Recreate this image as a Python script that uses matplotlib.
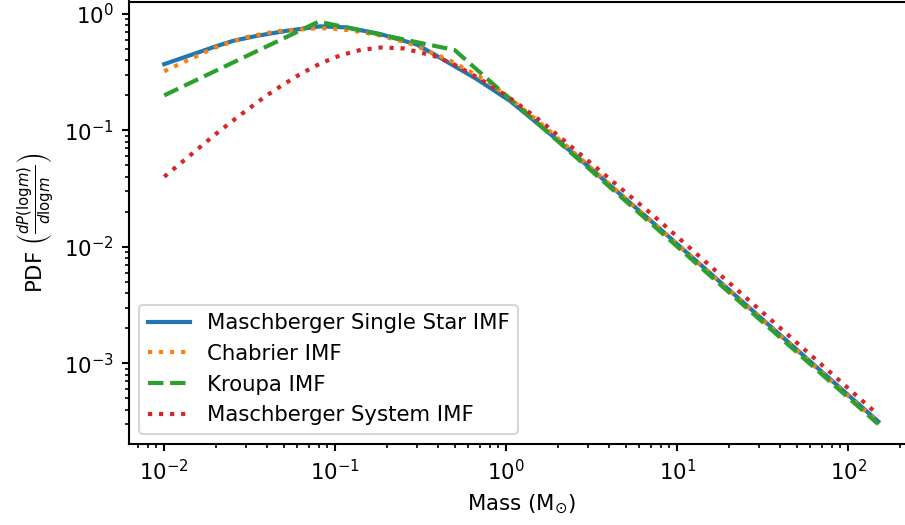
from matplotlib import pyplot as plt

# Maschberger single star IMF
mass_single = [0.01, 0.0148, 0.02, 0.0254, 0.035, 0.0522, 0.0817, 0.117, 0.183, 0.301, 0.43, 0.675, 1.054, 1.73, 3.0, 7.26, 150]
pdf_single = [0.371, 0.452, 0.527, 0.589, 0.650, 0.718, 0.783, 0.767, 0.673, 0.546, 0.405, 0.275, 0.179, 0.0986, 0.0495, 0.0160, 3.16e-4]

# Chabrier IMF
mass_chab = [0.01, 0.0135, 0.0199, 0.0298, 0.0452, 0.0798, 0.106, 0.141, 0.187, 0.281, 0.481, 0.789, 1.21, 1.73, 150]
pdf_chab = [0.322, 0.396, 0.516, 0.630, 0.710, 0.757, 0.743, 0.703, 0.650, 0.551, 0.391, 0.261, 0.160, 0.1035, 3.09e-4]

# Kroupa IMF
mass_kroupa = [0.01, 0.08, 0.5, 150]
pdf_kroupa = [0.20, 0.86, 0.49, 3.0e-4]

# Maschberger system IMF
mass_sys = [0.01, 0.0143, 0.0199, 0.0278, 0.0394, 0.0499, 0.0638, 0.0824, 0.107, 0.141, 0.187, 0.251,
            0.376, 0.492, 0.630, 0.805, 1.03, 1.29, 1.62, 7.43, 150]
pdf_sys = [0.040, 0.0617, 0.0925, 0.1355, 0.198, 0.249, 0.310, 0.378, 0.441, 0.492, 0.516, 0.506,
           0.438, 0.371, 0.304, 0.244, 0.194, 0.152, 0.118, 0.0180, 3.6e-4]

plt.rcParams['font.size'] = 10.2
plt.rcParams['axes.linewidth'] = 1.0
plt.rcParams['xtick.major.width'] = 1.0
plt.rcParams['ytick.major.width'] = 1.0
plt.rcParams['xtick.minor.width'] = 0.8
plt.rcParams['ytick.minor.width'] = 0.8

fig = plt.figure(figsize=(905 / 150, 525 / 150), dpi=150)
ax = fig.add_axes([128.5 / 905, (525 - 444.3) / 525, (914 - 128.5) / 905, (444.3 - 1.5) / 525])

ax.plot(mass_single, pdf_single, '-', lw=2, label='Maschberger Single Star IMF')
ax.plot(mass_chab, pdf_chab, ':', lw=2, label='Chabrier IMF')
ax.plot(mass_kroupa, pdf_kroupa, '--', lw=2, label='Kroupa IMF')
ax.plot(mass_sys, pdf_sys, ':', lw=2, label='Maschberger System IMF')

ax.set_xscale('log')
ax.set_yscale('log')
ax.set_xlabel(r'Mass (M$_{\odot}$)')
ax.set_ylabel(r'PDF $\left(\frac{dP(\mathrm{log}m)}{d\mathrm{log}m}\right)$')
ax.legend(loc='lower left')

fig.savefig('out.png', dpi=150)
